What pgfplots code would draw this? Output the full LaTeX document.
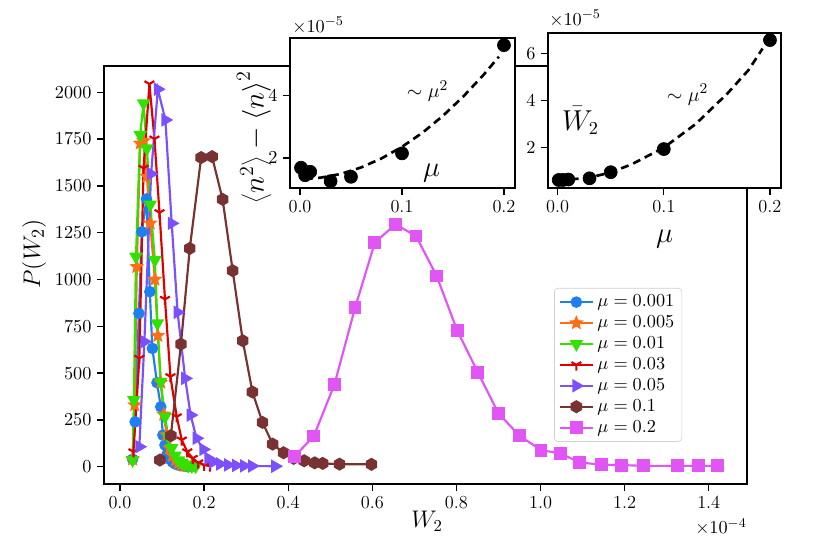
\documentclass[border=0pt]{standalone}
\usepackage{pgfplots}
\pgfplotsset{compat=1.18}
\usetikzlibrary{plotmarks}
\definecolor{cblue}{RGB}{30,128,240}
\definecolor{corange}{RGB}{255,110,20}
\definecolor{cgreen}{RGB}{50,225,0}
\definecolor{cred}{RGB}{220,0,0}
\definecolor{cpurple}{RGB}{122,80,255}
\definecolor{cbrown}{RGB}{120,50,50}
\definecolor{cpink}{RGB}{225,85,245}
\pgfdeclareplotmark{hexagon}{%
  \pgfpathmoveto{\pgfqpointpolar{90}{\pgfplotmarksize}}%
  \pgfpathlineto{\pgfqpointpolar{150}{\pgfplotmarksize}}%
  \pgfpathlineto{\pgfqpointpolar{210}{\pgfplotmarksize}}%
  \pgfpathlineto{\pgfqpointpolar{270}{\pgfplotmarksize}}%
  \pgfpathlineto{\pgfqpointpolar{330}{\pgfplotmarksize}}%
  \pgfpathlineto{\pgfqpointpolar{30}{\pgfplotmarksize}}%
  \pgfpathclose\pgfusepathqfillstroke}
\pgfdeclareplotmark{fstar}{%
  \pgfpathmoveto{\pgfqpointpolar{90}{\pgfplotmarksize}}%
  \pgfpathlineto{\pgfqpointpolar{126}{0.45\pgfplotmarksize}}%
  \pgfpathlineto{\pgfqpointpolar{162}{\pgfplotmarksize}}%
  \pgfpathlineto{\pgfqpointpolar{198}{0.45\pgfplotmarksize}}%
  \pgfpathlineto{\pgfqpointpolar{234}{\pgfplotmarksize}}%
  \pgfpathlineto{\pgfqpointpolar{270}{0.45\pgfplotmarksize}}%
  \pgfpathlineto{\pgfqpointpolar{306}{\pgfplotmarksize}}%
  \pgfpathlineto{\pgfqpointpolar{342}{0.45\pgfplotmarksize}}%
  \pgfpathlineto{\pgfqpointpolar{18}{\pgfplotmarksize}}%
  \pgfpathlineto{\pgfqpointpolar{54}{0.45\pgfplotmarksize}}%
  \pgfpathclose\pgfusepathqfillstroke}
\begin{document}
\begin{tikzpicture}
\useasboundingbox (0,0) rectangle (498pt,332.4pt);
\pgfplotsset{
  every axis/.append style={
    scale only axis,
    tick align=outside,
    tick pos=left,
    axis line style={line width=0.8pt},
    major tick style={line width=0.8pt,black},
    major tick length=4pt,
    tick label style={font=\fontsize{11}{13}\selectfont},
    /pgf/number format/1000 sep={},
  },
}
% main axis
\begin{axis}[
  at={(62.4pt,42pt)}, anchor=south west,
  width=385.8pt, height=250.8pt,
  xmin=-0.038, xmax=1.491, ymin=-92, ymax=2140,
  xtick={0,0.2,0.4,0.6,0.8,1.0,1.2,1.4},
  xticklabels={0.0,0.2,0.4,0.6,0.8,1.0,1.2,1.4},
  ytick={0,250,500,750,1000,1250,1500,1750,2000},
  every axis plot/.append style={line width=1.3pt},
  legend style={at={(0.700,0.469)}, anchor=north west, draw=black!18, rounded corners=2pt, fill=white,
    font=\fontsize{10.5}{12.5}\selectfont, row sep=0pt, inner xsep=2.5pt, inner ysep=2pt},
  legend cell align=left,
  legend image code/.code={\draw[mark repeat=2,mark phase=2] plot coordinates {(0pt,0pt)(10pt,0pt)(20pt,0pt)};},
]
\addplot[color=cblue, mark=*, mark size=2.8pt] coordinates {
(0.030,40)(0.036,240)(0.045,819)(0.052,1255)(0.063,1430)(0.071,935)(0.077,632)(0.088,449)(0.097,320)(0.102,169)(0.107,116)(0.113,65)(0.119,40)(0.125,25)(0.131,15)(0.138,10)(0.145,6)(0.152,4)(0.160,2)(0.170,1)};
\addlegendentry{$\mu=0.001$}
\addplot[color=corange, mark=fstar, mark size=3.0pt] coordinates {
(0.030,40)(0.035,330)(0.040,1068)(0.048,1727)(0.056,1740)(0.064,1550)(0.072,1300)(0.083,1000)(0.090,700)(0.097,450)(0.104,280)(0.111,170)(0.118,100)(0.125,60)(0.132,35)(0.139,20)(0.146,12)(0.153,7)(0.160,4)(0.170,2)};
\addlegendentry{$\mu=0.005$}
\addplot[color=cgreen, mark=triangle*, mark size=3.4pt, mark options={rotate=180}] coordinates {
(0.030,36)(0.033,356)(0.038,1122)(0.048,1772)(0.056,1941)(0.064,1700)(0.072,1400)(0.083,1104)(0.089,766)(0.097,454)(0.107,267)(0.115,160)(0.123,100)(0.131,60)(0.139,35)(0.147,20)(0.155,12)(0.163,7)(0.171,4)(0.180,2)};
\addlegendentry{$\mu=0.01$}
\addplot[color=cred, mark=Mercedes star flipped, mark size=3.4pt] coordinates {
(0.032,80)(0.046,579)(0.056,1594)(0.070,2044)(0.082,1750)(0.094,1357)(0.107,894)(0.120,481)(0.135,267)(0.147,143)(0.160,80)(0.173,45)(0.186,21)(0.200,9)(0.214,4)};
\addlegendentry{$\mu=0.03$}
\addplot[color=cpurple, mark=triangle*, mark size=3.4pt, mark options={rotate=-90}] coordinates {
(0.046,107)(0.058,668)(0.074,1564)(0.090,2016)(0.108,1852)(0.123,1300)(0.137,825)(0.155,472)(0.168,276)(0.182,152)(0.198,93)(0.210,45)(0.221,25)(0.238,15)(0.257,10)(0.276,7)(0.295,5)(0.314,4)(0.369,3)};
\addlegendentry{$\mu=0.05$}
\addplot[color=cbrown, mark=hexagon, mark size=3.2pt] coordinates {
(0.095,36)(0.121,166)(0.145,655)(0.166,1166)(0.193,1651)(0.219,1656)(0.244,1428)(0.268,1047)(0.292,673)(0.315,399)(0.339,237)(0.363,121)(0.389,75)(0.413,45)(0.438,32)(0.463,21)(0.482,18)(0.522,14)(0.598,13)};
\addlegendentry{$\mu=0.1$}
\addplot[color=cpink, mark=square*, mark size=3.2pt] coordinates {
(0.414,53)(0.461,164)(0.510,440)(0.559,849)(0.606,1197)(0.655,1295)(0.704,1232)(0.753,1019)(0.802,727)(0.851,504)(0.900,285)(0.950,166)(1.001,89)(1.048,71)(1.093,23)(1.145,11)(1.193,9)(1.245,5)(1.326,5)(1.376,5)(1.421,5)};
\addlegendentry{$\mu=0.2$}
\end{axis}
% inset 1
\begin{axis}[
  at={(174pt,219.6pt)}, anchor=south west,
  width=135pt, height=90pt,
  axis background/.style={fill=white},
  xmin=-0.0098, xmax=0.2108, ymin=1.04, ymax=5.85,
  xtick={0,0.1,0.2}, xticklabels={0.0,0.1,0.2},
  ytick={2,4},
]
\addplot[black, line width=1.6pt, dash pattern=on 4.8pt off 3pt] coordinates {
(0.005,1.33)(0.02,1.37)(0.04,1.49)(0.06,1.70)(0.08,1.99)(0.1,2.36)(0.12,2.81)(0.14,3.35)(0.16,3.97)(0.18,4.67)(0.195,5.25)};
\addplot[only marks, mark=*, mark size=3.9pt, black] coordinates {
(0.001,1.69)(0.005,1.45)(0.01,1.56)(0.03,1.26)(0.05,1.40)(0.1,2.15)(0.2,5.62)};
\end{axis}
% inset 2
\begin{axis}[
  at={(328.8pt,219.6pt)}, anchor=south west,
  width=139.8pt, height=93pt,
  axis background/.style={fill=white},
  xmin=-0.0091, xmax=0.2104, ymin=0.29, ymax=6.86,
  xtick={0,0.1,0.2}, xticklabels={0.0,0.1,0.2},
  ytick={2,4,6},
]
\addplot[black, line width=1.6pt, dash pattern=on 4.8pt off 3pt] coordinates {
(0.0,0.60)(0.03,0.73)(0.05,0.95)(0.07,1.30)(0.1,2.0)(0.13,3.0)(0.16,4.3)(0.18,5.3)(0.193,6.2)};
\addplot[only marks, mark=*, mark size=3.9pt, black] coordinates {
(0.001,0.63)(0.005,0.63)(0.01,0.65)(0.03,0.70)(0.05,0.96)(0.1,1.94)(0.2,6.56)};
\end{axis}
% labels
\node[rotate=90, font=\fontsize{15}{17}\selectfont] at (20.5pt,180pt) {$P(W_2)$};
\node[font=\fontsize{14}{16}\selectfont] at (256.2pt,19.8pt) {$W_2$};
\node[anchor=east, font=\fontsize{11}{13}\selectfont, inner sep=0pt] at (448.2pt,16.2pt) {$\times10^{-4}$};
\node[rotate=90, font=\fontsize{18}{20}\selectfont] at (152.5pt,250pt) {$\left\langle n^2\right\rangle-\left\langle n\right\rangle^2$};
\node[font=\fontsize{18}{20}\selectfont] at (258.9pt,228.3pt) {$\mu$};
\node[font=\fontsize{13}{15}\selectfont] at (256.5pt,277.8pt) {$\sim\mu^2$};
\node[anchor=west, font=\fontsize{11}{13}\selectfont, inner sep=0pt] at (175.2pt,317.1pt) {$\times10^{-5}$};
\node[font=\fontsize{16}{18}\selectfont, inner sep=1pt] at (348.3pt,260pt) {$\bar{W}_2$};
\node[font=\fontsize{13}{15}\selectfont] at (412.5pt,275.7pt) {$\sim\mu^2$};
\node[font=\fontsize{18}{20}\selectfont] at (398.7pt,189pt) {$\mu$};
\node[anchor=west, font=\fontsize{11}{13}\selectfont, inner sep=0pt] at (329.4pt,321.3pt) {$\times10^{-5}$};
\end{tikzpicture}
\end{document}
